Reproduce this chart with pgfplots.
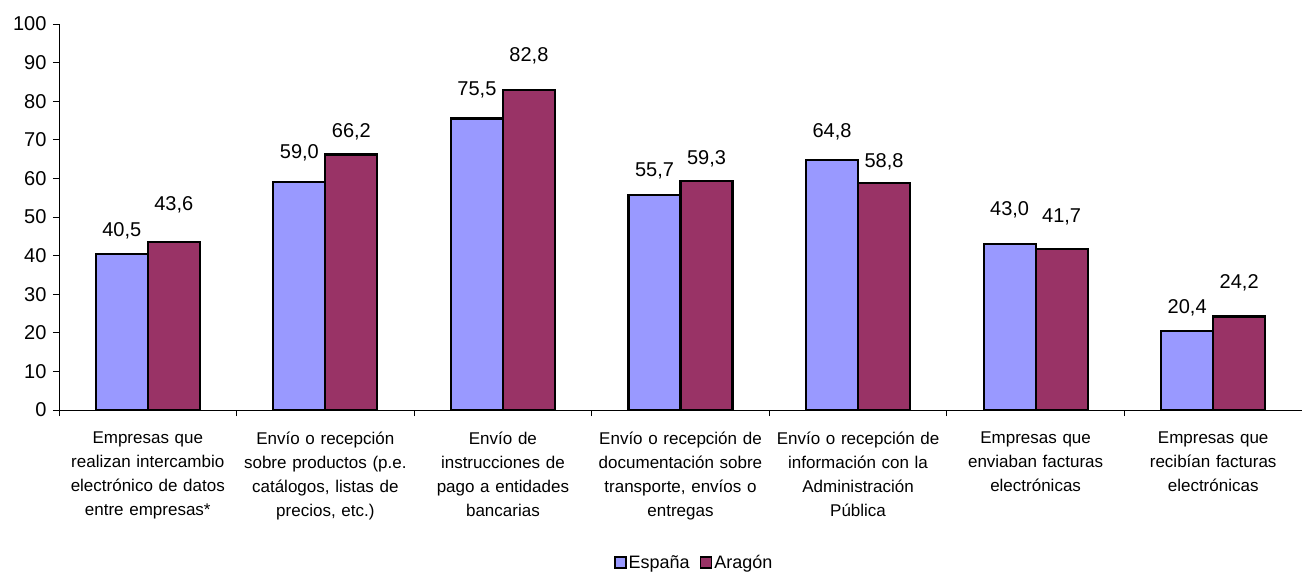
\documentclass[border=0pt]{standalone}
\usepackage{fontspec}
\setmainfont{Liberation Sans}
\usepackage{pgfplots}
\usepackage{pgfplotstable}
\pgfplotsset{compat=1.18}
\definecolor{esp}{HTML}{9999FF}
\definecolor{ara}{HTML}{993366}
% x, value, label baseline height (data units), label text
\pgfplotstableread{
x y ly lab
0 40.5 44.9 40,5
1 59.0 65.2 59,0
2 75.5 81.5 75,5
3 55.7 60.6 55,7
4 64.8 70.5 64,8
5 43.0 50.3 43,0
6 20.4 25.1 20,4
}\espdata
\pgfplotstableread{
x y ly lab
0 43.6 51.6 43,6
1 66.2 70.6 66,2
2 82.8 90.3 82,8
3 59.3 63.7 59,3
4 58.8 62.7 58,8
5 41.7 48.7 41,7
6 24.2 31.5 24,2
}\aradata
\begin{document}
\begin{tikzpicture}
\begin{axis}[
  scale only axis, width=1243pt, height=386pt,
  ymin=0, ymax=100, ytick={0,10,...,100},
  xmin=-0.5, xmax=6.5,
  xtick={0,...,6},
  xticklabels={
    {Empresas que\\realizan intercambio\\electrónico de datos\\entre empresas*},
    {Envío o recepción\\sobre productos (p.e.\\catálogos, listas de\\precios, etc.)},
    {Envío de\\instrucciones de\\pago a entidades\\bancarias},
    {Envío o recepción de\\documentación sobre\\transporte, envíos o\\entregas},
    {Envío o recepción de\\información con la\\Administración\\Pública},
    {Empresas que\\enviaban facturas\\electrónicas},
    {Empresas que\\recibían facturas\\electrónicas}},
  minor xtick={-0.5,0.5,...,6.5},
  axis x line*=bottom, axis y line*=left,
  axis line style={-, black, line width=0.8pt},
  major x tick style={draw=none},
  tick align=outside, major tick length=6pt, minor tick length=6pt,
  tick style={black, line width=0.8pt},
  /pgf/number format/assume math mode=true,
  yticklabel style={font=\fontsize{20}{24}\selectfont, xshift=-3pt},
  xticklabel style={font=\fontsize{17}{24}\selectfont, text width=180pt, align=center, anchor=north, yshift=-12pt},
  ybar, bar width=52pt,
  legend columns=2,
  legend style={draw=none, at={(0.511,-0.396)}, anchor=center, font=\fontsize{18}{22}\selectfont,
    /tikz/every even column/.append style={column sep=8pt}, inner sep=1pt},
  legend image code/.code={\draw[#1, draw=black, line width=1.6pt] (0pt,-5pt) rectangle (11pt,6pt);},
]
\pgfplotsset{
  barlabels/.style={
    draw=none, fill=none, forget plot,
    point meta=explicit symbolic,
    nodes near coords,
    nodes near coords style={font=\fontsize{20}{24}\selectfont, anchor=base, text=black, inner sep=0pt},
  }
}
\addplot[fill=esp, draw=black, line width=2.2pt, bar shift=-26pt] table[x=x,y=y] {\espdata};
\addplot[fill=ara, draw=black, line width=2.2pt, bar shift=26pt] table[x=x,y=y] {\aradata};
\addplot[barlabels, bar shift=-26pt] table[x=x,y=ly,meta=lab] {\espdata};
\addplot[barlabels, bar shift=26pt] table[x=x,y=ly,meta=lab] {\aradata};
\legend{España, Aragón}
\end{axis}
\pgfresetboundingbox
\path (current axis.south west) ++(-59pt,-164pt) rectangle ++(1302pt,574pt);
\end{tikzpicture}
\end{document}
